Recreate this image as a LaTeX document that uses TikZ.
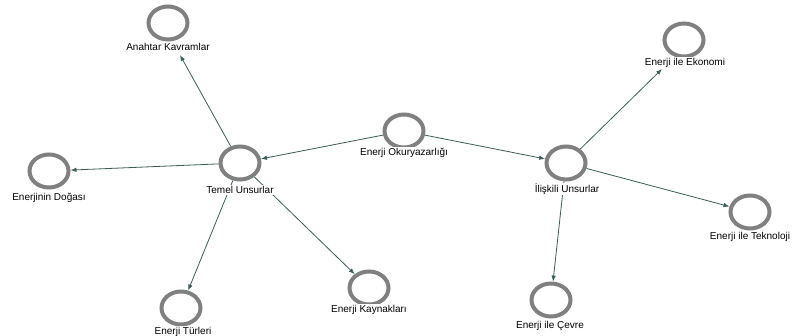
\documentclass[tikz,border=0pt]{standalone}
\usepackage{fontspec}
\setmainfont{Liberation Sans}
\usetikzlibrary{arrows.meta,shapes.geometric}
\pgfdeclarelayer{bgfill}
\pgfdeclarelayer{bg}
\pgfsetlayers{bgfill,bg,main}
\begin{document}
\begin{tikzpicture}[x=1pt,y=-1pt,
  ring/.style={draw=black!50,line width=4pt,ellipse,minimum width=39pt,minimum height=33pt,inner sep=0pt,outer sep=2pt},
  lbl/.style={fill=white,inner sep=1pt,font=\fontsize{10}{12}\selectfont},
  link/.style={draw={rgb,255:red,62;green,92;blue,86},line width=0.8pt,-{Latex[length=6pt,width=4.5pt]}}]
\useasboundingbox (0,0) rectangle (793,336);
\begin{pgfonlayer}{bgfill}
\fill[white] (0,0) rectangle (793,336);
\end{pgfonlayer}
% circles
\node[ring] (okur) at (404,131) {};
\node[ring] (temel) at (240,163) {};
\node[ring] (ilis) at (566,163) {};
\node[ring] (anah) at (168,23) {};
\node[ring] (doga) at (49,171) {};
\node[ring] (turl) at (181,308) {};
\node[ring] (kayn) at (369,288) {};
\node[ring] (cevr) at (551,300) {};
\node[ring] (ekon) at (684,40) {};
\node[ring] (tekn) at (750,212) {};
% labels
\node[lbl] (okurL) at (404,153) {Enerji Okuryazarlığı};
\node[lbl] (temelL) at (240,190) {Temel Unsurlar};
\node[lbl] (ilisL) at (567,189) {İlişkili Unsurlar};
\node[lbl] (anahL) at (168,47) {Anahtar Kavramlar};
\node[lbl] (dogaL) at (49,198) {Enerjinin Doğası};
\node[lbl] (turlL) at (183,332) {Enerji Türleri};
\node[lbl] (kaynL) at (369,310) {Enerji Kaynakları};
\node[lbl] (cevrL) at (550,326) {Enerji ile Çevre};
\node[lbl] (ekonL) at (685,63) {Enerji ile Ekonomi};
\node[lbl] (teknL) at (750,237) {Enerji ile Teknoloji};
% edge end points under the top labels
\coordinate (anahT) at (180,55);
\coordinate (ekonT) at (662,69);
% edges
\begin{pgfonlayer}{bg}
\draw[link] (okur) -- (temel);
\draw[link] (okur) -- (ilis);
\draw[link] (temel) -- (anahT);
\draw[link] (temel) -- (doga);
\draw[link] (temel) -- (turl);
\draw[link] (temel) -- (kayn);
\draw[link] (ilis) -- (ekonT);
\draw[link] (ilis) -- (tekn);
\draw[link] (ilis) -- (cevr);
\end{pgfonlayer}
\end{tikzpicture}
\end{document}
